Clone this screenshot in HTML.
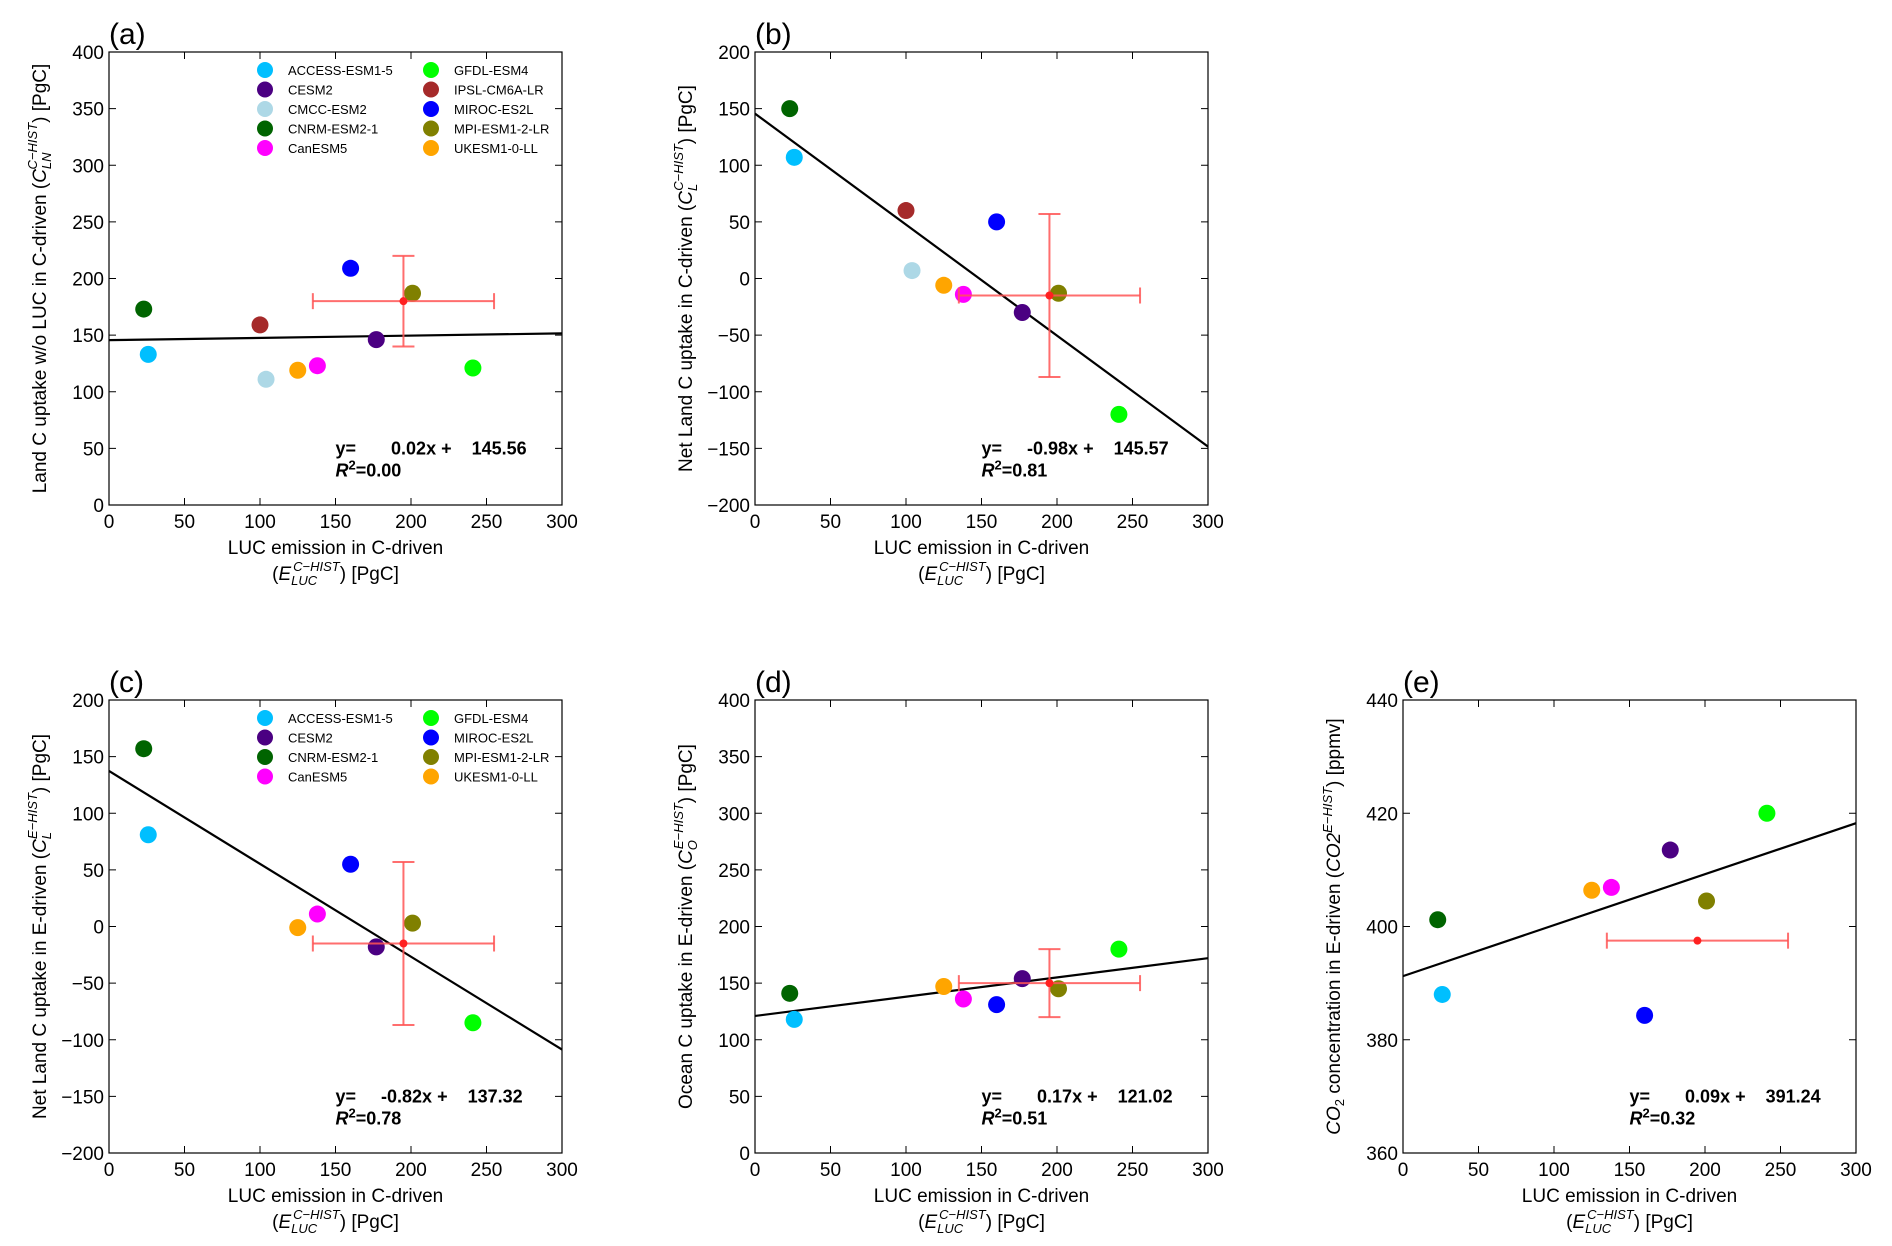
<!DOCTYPE html>
<html><head><meta charset="utf-8"><style>
html,body{margin:0;padding:0;background:#fff;}
svg{display:block;font-family:"Liberation Sans","DejaVu Sans",sans-serif;}
.pre{white-space:pre;}
</style></head><body>
<svg id="fig" width="1892" height="1246" viewBox="0 0 1892 1246"></svg>
<script>
const models = ["ACCESS-ESM1-5","CESM2","CMCC-ESM2","CNRM-ESM2-1","CanESM5","GFDL-ESM4","IPSL-CM6A-LR","MIROC-ES2L","MPI-ESM1-2-LR","UKESM1-0-LL"];
const colors = ["#00bfff","#4b0082","#add8e6","#006400","#ff00ff","#00ff00","#a52a2a","#0000ff","#808000","#ffa500"];
const luc = [26,177,104,23,138,241,100,160,201,125];
const valsA = [133,146,111,173,123,121,159,209,187,119];
const valsB = [107,-30,7,150,-14,-120,60,50,-13,-6];
const valsC = [81,-18,null,157,11,-85,null,55,3,-1];
const valsD = [118,154,null,141,136,180,null,131,145,147];
const valsE = [388,413.5,null,401.2,406.9,420,null,384.3,404.5,406.4];
const slopes = [0.02,-0.98,-0.82,0.17,0.09];
const intercepts = [145.56,145.57,137.32,121.02,391.24];
const r2 = ["0.00","0.81","0.78","0.51","0.32"];
const meanX = [195,195,195,195,195];
const meanY = [180,-15,-15,150,397.5];
const xErrLo = [135,135,135,135,135];
const xErrHi = [255,255,255,255,255];
const yErrLo = [140,-87,-87,120,null];
const yErrHi = [220,57,57,180,null];
const xTicks = [0,50,100,150,200,250,300];
const yTicksA = [0,50,100,150,200,250,300,350,400];
const yTicksB = [-200,-150,-100,-50,0,50,100,150,200];
const yTicksE = [360,380,400,420,440];

const NS="http://www.w3.org/2000/svg";
const fig=document.getElementById('fig');
function mk(tag,attrs,parent){const e=document.createElementNS(NS,tag);for(const k in attrs)e.setAttribute(k,attrs[k]);(parent||fig).appendChild(e);return e;}

const W=453,H=453;
const panels=[
 {id:'a',L:109,T:52,vals:valsA,yt:yTicksA,legend:[0,1,2,3,4,5,6,7,8,9],
  ylab:['Land C uptake w/o LUC in C-driven (','C','LN','C−HIST',') [PgC]'],sdx:-17},
 {id:'b',L:755,T:52,vals:valsB,yt:yTicksB,legend:null,
  ylab:['Net Land C uptake in C-driven (','C','L','C−HIST',') [PgC]'],sdx:-7},
 {id:'c',L:109,T:700,vals:valsC,yt:yTicksB,legend:[0,1,3,4,5,7,8,9],
  ylab:['Net Land C uptake in E-driven (','C','L','E−HIST',') [PgC]'],sdx:-7},
 {id:'d',L:755,T:700,vals:valsD,yt:yTicksA,legend:null,
  ylab:['Ocean C uptake in E-driven (','C','O','E−HIST',') [PgC]'],sdx:-9},
 {id:'e',L:1403,T:700,vals:valsE,yt:yTicksE,legend:null,co2:true,
  ylab:['concentration in E-driven (','CO2','','E−HIST',') [ppmv]']}
];

panels.forEach((p,pi)=>{
  const g=mk('g',{});
  
  
  const x0=xTicks[0],x1=xTicks[xTicks.length-1],y0=p.yt[0],y1=p.yt[p.yt.length-1];
  const sx=v=>p.L+(v-x0)/(x1-x0)*W;
  const sy=v=>p.T+H-(v-y0)/(y1-y0)*H;
  const clip='clip'+p.id;
  const cp=mk('clipPath',{id:clip},g);mk('rect',{x:p.L,y:p.T,width:W,height:H},cp);
  xTicks.forEach(t=>{
    const X=sx(t);
    const l1=mk('line',{x1:X,x2:X,y1:p.T+H,y2:p.T+H-7,stroke:'#000','stroke-width':1},g);
    
    mk('line',{x1:X,x2:X,y1:p.T,y2:p.T+7,stroke:'#000','stroke-width':1},g);
    const tx=mk('text',{x:X,y:p.T+H+23,'font-size':19,'text-anchor':'middle',fill:'#000'},g);
    tx.textContent=t;
  });
  p.yt.forEach(t=>{
    const Y=sy(t);
    mk('line',{x1:p.L,x2:p.L+7,y1:Y,y2:Y,stroke:'#000','stroke-width':1},g);
    mk('line',{x1:p.L+W,x2:p.L+W-7,y1:Y,y2:Y,stroke:'#000','stroke-width':1},g);
    const tx=mk('text',{x:p.L-5,y:Y+7,'font-size':19,'text-anchor':'end',fill:'#000'},g);
    tx.textContent=(t<0?'−'+(-t):t);
  });
  const rl=mk('line',{x1:sx(x0),y1:sy(slopes[pi]*x0+intercepts[pi]),x2:sx(x1),y2:sy(slopes[pi]*x1+intercepts[pi]),stroke:'#000','stroke-width':2.2,'clip-path':'url(#'+clip+')'},g);
  
  p.vals.forEach((v,i)=>{
    if(v===null)return;
    const c=mk('circle',{cx:sx(luc[i]),cy:sy(v),r:8.5,fill:colors[i]},g);
    
    
  });
  const eg=mk('g',{stroke:'#ff5555','stroke-opacity':0.85,'stroke-width':2,fill:'none'},g);
  
  const my=sy(meanY[pi]);
  mk('line',{x1:sx(xErrLo[pi]),x2:sx(xErrHi[pi]),y1:my,y2:my},eg);
  mk('line',{x1:sx(xErrLo[pi]),x2:sx(xErrLo[pi]),y1:my-8,y2:my+8},eg);
  mk('line',{x1:sx(xErrHi[pi]),x2:sx(xErrHi[pi]),y1:my-8,y2:my+8},eg);
  if(yErrLo[pi]!==null){
    const mx=sx(meanX[pi]);
    mk('line',{x1:mx,x2:mx,y1:sy(yErrLo[pi]),y2:sy(yErrHi[pi])},eg);
    mk('line',{x1:mx-11,x2:mx+11,y1:sy(yErrLo[pi]),y2:sy(yErrLo[pi])},eg);
    mk('line',{x1:mx-11,x2:mx+11,y1:sy(yErrHi[pi]),y2:sy(yErrHi[pi])},eg);
  }
  const mc=mk('circle',{cx:sx(meanX[pi]),cy:my,r:4,fill:'#ff2020'},g);
  
  const fr=mk('rect',{x:p.L,y:p.T,width:W,height:H,fill:'none',stroke:'#000','stroke-width':1.2},g);
  
  const pl=mk('text',{x:p.L,y:p.T-8,'font-size':30,fill:'#000'},g);
  pl.textContent='('+p.id+')';
  const eq=mk('text',{x:p.L+W*0.5,y:p.T+H*0.888,'font-size':18,'font-weight':'bold',fill:'#000','class':'pre'},g);
  const s=slopes[pi].toFixed(2),b=intercepts[pi].toFixed(2);
  eq.textContent='y=     '+(slopes[pi]>=0?'  ':'')+s+'x +    '+b;
  
  const rq=mk('text',{x:p.L+W*0.5,y:p.T+H*0.888+22,'font-size':18,'font-weight':'bold',fill:'#000'},g);
  rq.innerHTML='<tspan font-style="italic">R</tspan><tspan dy="-7" font-size="13">2</tspan><tspan dy="7">='+r2[pi]+'</tspan>';
  
  const xl=mk('text',{x:p.L+W/2,y:p.T+H+49,'font-size':19,'text-anchor':'middle',fill:'#000'},g);
  xl.textContent='LUC emission in C-driven';
  const xl2=mk('text',{x:p.L+W/2,y:p.T+H+75,'font-size':19,'text-anchor':'middle',fill:'#000'},g);
  xl2.innerHTML='(<tspan font-style="italic">E</tspan><tspan font-style="italic" font-size="13" dy="5">LUC</tspan><tspan font-style="italic" font-size="13" dx="-24" dy="-14">C−HIST</tspan><tspan dy="9">) [PgC]</tspan>';
  
  const yx=p.L-63, yc=p.T+H/2;
  const yl=mk('text',{x:0,y:0,'font-size':19,'text-anchor':'middle',fill:'#000',transform:'translate('+yx+','+yc+') rotate(-90)'},g);
  const q=p.ylab;
  if(p.co2){
    yl.innerHTML='<tspan font-style="italic">CO</tspan><tspan font-size="13" dy="4">2</tspan><tspan dy="-4"> '+q[0]+'</tspan><tspan font-style="italic">CO2</tspan><tspan font-style="italic" font-size="13" dy="-8">'+q[3]+'</tspan><tspan dy="8">'+q[4]+'</tspan>';
  } else {
    yl.innerHTML=q[0]+'<tspan font-style="italic">'+q[1]+'</tspan><tspan font-style="italic" font-size="13" dy="5">'+q[2]+'</tspan><tspan font-style="italic" font-size="13" dx="'+p.sdx+'" dy="-14">'+q[3]+'</tspan><tspan dy="9">'+q[4]+'</tspan>';
  }
  
  if(p.legend){
    const lg=mk('g',{},g);
    
    const half=Math.ceil(p.legend.length/2);
    p.legend.forEach((mi,k)=>{
      const col=k<half?0:1,row=k<half?k:k-half;
      const cx=p.L+156+col*166, cy=p.T+18+row*19.5;
      const e=mk('g',{},lg);
      
      mk('circle',{cx:cx,cy:cy,r:8,fill:colors[mi]},e);
      const t=mk('text',{x:cx+23,y:cy+5,'font-size':13,fill:'#000'},e);
      t.textContent=models[mi];
    });
  }
});
</script>
</body></html>
